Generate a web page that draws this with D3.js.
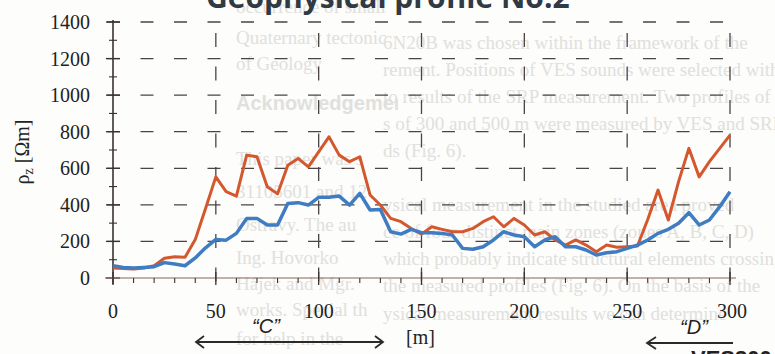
<!DOCTYPE html>
<html>
<head>
<meta charset="utf-8">
<script src="https://cdn.jsdelivr.net/npm/d3@7/dist/d3.min.js"></script>
<style>
  html, body { margin: 0; padding: 0; background: #fdfdfb; }
  svg { display: block; }
  .tick-label { font-family: 'Liberation Serif', 'DejaVu Serif', serif; font-size: 20px; fill: #222; }
  .page-text { font-family: 'Liberation Serif', serif; font-size: 19px; fill: #e0e0de; }
</style>
</head>
<body>
<div id="chart"></div>
<script>
// distance along profile [m]
const distance = d3.range(0, 301, 5);
// resistivity, red curve [Ωm]
const rhoRed = [55, 52, 49, 55, 67, 108, 116, 113, 210, 380, 553, 472, 448, 672, 663, 499,
  460, 617, 654, 608, 690, 772, 672, 636, 663, 454, 399, 326, 308, 271, 240,
  280, 266, 253, 253, 271, 308, 335, 280, 326, 290, 235, 253, 208, 180, 208,
  180, 144, 180, 168, 171, 175, 320, 481, 317, 527, 709, 553, 636, 709, 781];
// resistivity, blue curve [Ωm]
const rhoBlue = [67, 58, 55, 58, 62, 84, 76, 67, 110, 165, 211, 207, 244, 326, 326, 290,
  290, 408, 412, 399, 441, 441, 448, 399, 463, 372, 375, 253, 240, 266, 248,
  248, 244, 235, 162, 157, 171, 208, 253, 235, 226, 171, 208, 226, 171, 171,
  153, 126, 138, 144, 162, 180, 208, 244, 266, 299, 357, 290, 317, 390, 472];
const xTicks = [0, 50, 100, 150, 200, 250, 300];
const yTicks = [0, 200, 400, 600, 800, 1000, 1200, 1400];

// faint text of the printed page behind the figure
const leftColumn = [
  [13, 'occurrence of small'], [44, 'Quaternary tectonic'], [70, 'of Geology'],
  [165, 'This paper was s'], [198, '31105601 and 12'], [231, 'Ostravy. The au'],
  [264, 'Ing. Hovorko'], [290, 'Hájek and Mgr.'], [316, 'works. Special th'], [345, 'for help in the']
];
const middleColumn = [
  [49, '6N20B was chosen within the framework of the'],
  [76, 'rement. Positions of VES sounds were selected with'],
  [103, 'to results of the SRP measurement. Two profiles of'],
  [130, 's of 300 and 500 m were measured by VES and SRP'],
  [157, 'ds (Fig. 6).'],
  [211, 'ysical measurement in the studied area proved'],
  [238, 'ce of four distinct main zones (zones A, B, C, D)'],
  [265, 'which probably indicate structural elements crossing'],
  [292, 'the measured profiles (Fig. 6). On the basis of the'],
  [320, 'ysical measurement results we can determine']
];

const width = 775, height = 354;
const svg = d3.select('#chart').append('svg').attr('width', width).attr('height', height);

const defs = svg.append('defs');
defs.append('clipPath').attr('id', 'leftCol').append('rect')
  .attr('x', 200).attr('y', 0).attr('width', 198).attr('height', height);
defs.append('clipPath').attr('id', 'midCol').append('rect')
  .attr('x', 380).attr('y', 0).attr('width', 395).attr('height', height);

// background page text
const bg = svg.append('g');
bg.append('g').attr('clip-path', 'url(#leftCol)').selectAll('text')
  .data(leftColumn).enter().append('text')
  .attr('class', 'page-text').attr('x', 236).attr('y', d => d[0]).text(d => d[1]);
bg.append('text').attr('clip-path', 'url(#leftCol)')
  .attr('x', 236).attr('y', 110)
  .style('font-family', "'Liberation Sans', sans-serif").style('font-weight', 'bold')
  .style('font-size', '20px').attr('fill', '#e0e0de').text('Acknowledgements');
bg.append('g').attr('clip-path', 'url(#midCol)').selectAll('text')
  .data(middleColumn).enter().append('text')
  .attr('class', 'page-text').attr('x', 383).attr('y', d => d[0]).text(d => d[1]);

// figure title, cut at the top
svg.append('text')
  .attr('x', 206).attr('y', 8)
  .style('font-family', "'Open Sans', sans-serif").style('font-weight', 'bold')
  .style('font-size', '30px').attr('fill', '#2f3a44')
  .text('Geophysical profile No.2');

const x = d3.scaleLinear().domain([0, 300]).range([113, 730]);
const y = d3.scaleLinear().domain([0, 1400]).range([278, 22]);

const grid = svg.append('g');
/* horizontal dashed grid */
grid.selectAll('.hgrid').data(yTicks.filter(d => d > 0)).enter().append('line')
  .attr('x1', 107).attr('x2', 735)
  .attr('y1', d => y(d)).attr('y2', d => y(d))
  .attr('stroke', '#4a4444').attr('stroke-width', 1.3)
  .attr('stroke-dasharray', '13 20.5');
/* vertical dashed grid */
grid.selectAll('.vgrid').data(xTicks.filter(d => d > 0)).enter().append('line')
  .attr('x1', d => x(d)).attr('x2', d => x(d))
  .attr('y1', 22).attr('y2', 284)
  .attr('stroke', '#4a4444').attr('stroke-width', 1.3)
  .attr('stroke-dasharray', '14 19.5').attr('stroke-dashoffset', 22.5);

/* Y axis */
svg.append('line').attr('x1', 113).attr('x2', 113).attr('y1', 20).attr('y2', 284)
  .attr('stroke', '#3a3232').attr('stroke-width', 1.6);
svg.selectAll('.ymajor').data(yTicks).enter().append('line')
  .attr('x1', 106).attr('x2', 120).attr('y1', d => y(d)).attr('y2', d => y(d))
  .attr('stroke', '#3a3232').attr('stroke-width', 1.3);
svg.selectAll('.yminor').data(d3.range(100, 1400, 200)).enter().append('line')
  .attr('x1', 109).attr('x2', 117).attr('y1', d => y(d)).attr('y2', d => y(d))
  .attr('stroke', '#3a3232').attr('stroke-width', 1.1);
svg.selectAll('.ylab').data(yTicks).enter().append('text')
  .attr('class', 'tick-label').attr('text-anchor', 'end')
  .attr('x', 90).attr('y', d => y(d) + 7).text(d => d);

/* X axis */
svg.append('line').attr('x1', 105).attr('x2', 736).attr('y1', y(0)).attr('y2', y(0))
  .attr('stroke', '#8d6258').attr('stroke-width', 1.2);
svg.selectAll('.xmajor').data(xTicks).enter().append('line')
  .attr('x1', d => x(d)).attr('x2', d => x(d)).attr('y1', y(0) - 6).attr('y2', y(0) + 7)
  .attr('stroke', '#3a3232').attr('stroke-width', 1.3);
svg.selectAll('.xminor').data(d3.range(10, 300, 10).filter(d => d % 50 !== 0)).enter().append('line')
  .attr('x1', d => x(d)).attr('x2', d => x(d)).attr('y1', y(0)).attr('y2', y(0) + 5)
  .attr('stroke', '#3a3232').attr('stroke-width', 1.1);
svg.selectAll('.xlab').data(xTicks).enter().append('text')
  .attr('class', 'tick-label').attr('text-anchor', 'middle')
  .attr('x', d => x(d) + (d === 300 ? 2 : 0)).attr('y', 318).text(d => d);

/* axis titles */
const yt = svg.append('text').attr('class', 'tick-label')
  .attr('transform', 'translate(29,152) rotate(-90)').attr('text-anchor', 'middle');
yt.append('tspan').text('ρ');
yt.append('tspan').attr('dy', 4).style('font-size', '14px').text('z');
yt.append('tspan').attr('dy', -4).text(' [Ωm]');
svg.append('text').attr('class', 'tick-label').attr('x', 406).attr('y', 344).text('[m]');

/* Curves */
const line = d3.line().x((d, i) => x(distance[i])).y(d => y(d));
svg.append('path').datum(rhoRed).attr('d', line)
  .attr('fill', 'none').attr('stroke', '#d4582e').attr('stroke-width', 3)
  .attr('stroke-linejoin', 'round');
svg.append('path').datum(rhoBlue).attr('d', line)
  .attr('fill', 'none').attr('stroke', '#3f7cc2').attr('stroke-width', 3.5)
  .attr('stroke-linejoin', 'round');

/* zone labels and arrows */
const zoneFont = "'Liberation Sans', Arial, sans-serif";
svg.append('text').attr('x', 266).attr('y', 333).attr('text-anchor', 'middle')
  .style('font-family', zoneFont).style('font-style', 'italic').style('font-size', '20px')
  .attr('fill', '#222').text('“C”');
svg.append('text').attr('x', 694).attr('y', 334).attr('text-anchor', 'middle')
  .style('font-family', zoneFont).style('font-style', 'italic').style('font-size', '20px')
  .attr('fill', '#222').text('“D”');

const arrows = svg.append('g').attr('stroke', '#2a2a2a').attr('stroke-width', 1.8).attr('fill', 'none');
arrows.append('path').attr('d', 'M196,342 H383 M204,336 L196,342 L204,348 M375,336 L383,342 L375,348');
arrows.append('path').attr('d', 'M647,343 H733 M656,337 L647,343 L656,349');

svg.append('text').attr('x', 691).attr('y', 366)
  .style('font-family', zoneFont).style('font-weight', 'bold').style('font-size', '22px')
  .attr('fill', '#222').text('VES300');
</script>
</body>
</html>
